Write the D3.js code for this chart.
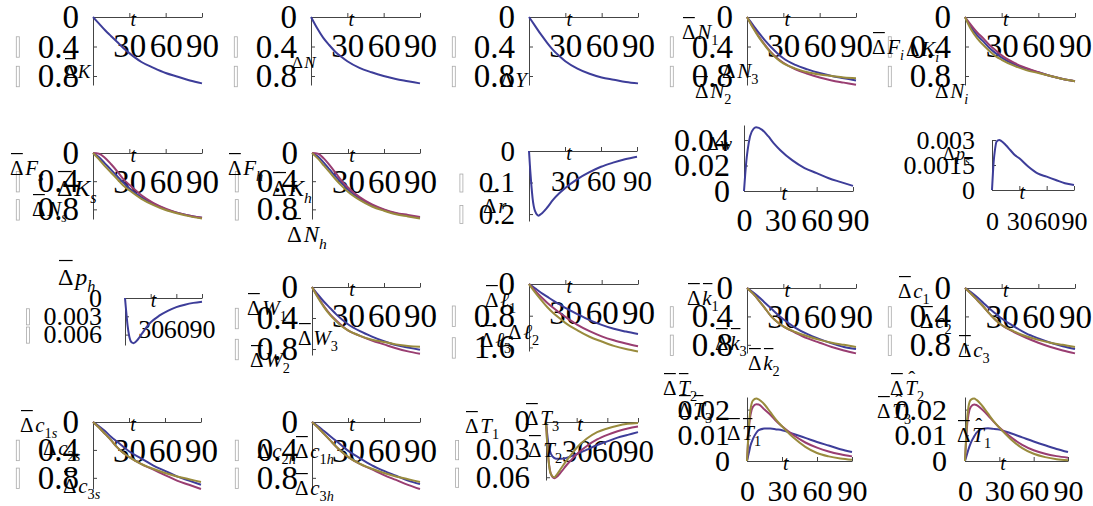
<!DOCTYPE html>
<html>
<head>
<meta charset="utf-8">
<script src="https://cdn.jsdelivr.net/npm/d3@7"></script>
<style>body{margin:0;background:#fff}</style>
</head>
<body>
<svg id="chart" width="1093" height="506"></svg>
<script>
// time grids
const T = [0, 5, 10, 15, 20, 25, 30, 40, 50, 60, 70, 80, 90];
const TF = [0, 1, 2, 3, 5, 8, 10, 15, 20, 25, 30, 40, 50, 60, 70, 80, 90];

// tick values
const xtNeg = [30, 60, 90];
const xtPos = [0, 30, 60, 90];
const ytUnit = [0, -0.4, -0.8];
const ytR = [0, -0.1, -0.2];
const ytW = [0, 0.02, 0.04];
const ytPs = [0, 0.0015, 0.003];
const ytPh = [0, -0.003, -0.006];
const ytL = [0, -0.8, -1.6];
const ytT = [0, -0.03, -0.06];
const ytTb = [0, 0.01, 0.02];

// row 1
const dK = [0, -0.09, -0.18, -0.26, -0.34, -0.42, -0.49, -0.61, -0.69, -0.76, -0.81, -0.86, -0.90];
const dN = [0, -0.15, -0.28, -0.38, -0.47, -0.54, -0.60, -0.69, -0.75, -0.80, -0.84, -0.87, -0.90];
const dY = [0, -0.12, -0.24, -0.35, -0.45, -0.53, -0.60, -0.70, -0.77, -0.82, -0.85, -0.88, -0.90];
const dN1 = [0, -0.11, -0.22, -0.32, -0.41, -0.49, -0.56, -0.65, -0.71, -0.76, -0.80, -0.83, -0.86];
const dN2 = [0, -0.14, -0.27, -0.38, -0.48, -0.56, -0.62, -0.71, -0.77, -0.82, -0.86, -0.89, -0.92];
const dN3 = [0, -0.15, -0.28, -0.39, -0.49, -0.57, -0.63, -0.70, -0.75, -0.78, -0.80, -0.82, -0.83];
const dFi = [0, -0.14, -0.25, -0.33, -0.42, -0.49, -0.55, -0.64, -0.70, -0.75, -0.80, -0.84, -0.87];
const dKi = [0, -0.11, -0.21, -0.29, -0.38, -0.45, -0.52, -0.62, -0.69, -0.75, -0.80, -0.84, -0.87];
const dNi = [0, -0.17, -0.29, -0.38, -0.46, -0.53, -0.58, -0.66, -0.72, -0.76, -0.80, -0.84, -0.87];

// row 2
const dFs = [0, -0.06, -0.15, -0.24, -0.33, -0.42, -0.50, -0.63, -0.72, -0.80, -0.85, -0.89, -0.92];
const dKs = [0, -0.01, -0.07, -0.16, -0.26, -0.37, -0.45, -0.60, -0.71, -0.79, -0.85, -0.89, -0.92];
const dNs = [0, -0.09, -0.19, -0.28, -0.37, -0.46, -0.53, -0.65, -0.74, -0.81, -0.86, -0.90, -0.93];
const dFh = [0, -0.05, -0.14, -0.24, -0.34, -0.43, -0.52, -0.65, -0.74, -0.81, -0.86, -0.89, -0.92];
const dKh = [0, -0.01, -0.08, -0.18, -0.29, -0.40, -0.49, -0.63, -0.73, -0.80, -0.85, -0.88, -0.91];
const dNh = [0, -0.08, -0.18, -0.28, -0.38, -0.47, -0.55, -0.67, -0.76, -0.82, -0.87, -0.90, -0.93];
const dr = [0, -0.06, -0.11, -0.15, -0.19, -0.205, -0.20, -0.18, -0.155, -0.135, -0.118, -0.09, -0.068, -0.05, -0.037, -0.026, -0.018];
const dw = [0, 0.013, 0.024, 0.032, 0.043, 0.049, 0.050, 0.048, 0.043, 0.037, 0.032, 0.024, 0.018, 0.014, 0.010, 0.007, 0.004];
const dps = [0, 0.0010, 0.0018, 0.0023, 0.0029, 0.0030, 0.00295, 0.0027, 0.0024, 0.0021, 0.0019, 0.0014, 0.0010, 0.0008, 0.0006, 0.0004, 0.0003];

// row 3
const dph = [0, -0.0016, -0.0031, -0.0045, -0.0063, -0.0073, -0.0074, -0.0068, -0.0058, -0.0048, -0.0040, -0.0029, -0.0021, -0.0015, -0.0011, -0.0008, -0.0006];
const dW1 = [0, -0.10, -0.19, -0.27, -0.35, -0.42, -0.48, -0.57, -0.64, -0.70, -0.75, -0.78, -0.81];
const dW2 = [0, -0.13, -0.25, -0.35, -0.43, -0.50, -0.56, -0.63, -0.69, -0.74, -0.79, -0.83, -0.86];
const dW3 = [0, -0.14, -0.26, -0.36, -0.44, -0.51, -0.56, -0.63, -0.68, -0.71, -0.74, -0.76, -0.77];
const dl1 = [0, -0.11, -0.22, -0.32, -0.42, -0.51, -0.60, -0.76, -0.91, -1.03, -1.13, -1.20, -1.26];
const dl2 = [0, -0.17, -0.33, -0.47, -0.60, -0.72, -0.83, -1.03, -1.19, -1.32, -1.42, -1.50, -1.57];
const dl3 = [0, -0.21, -0.40, -0.58, -0.73, -0.86, -0.98, -1.17, -1.33, -1.45, -1.56, -1.64, -1.70];
const dk1 = [0, -0.06, -0.13, -0.21, -0.29, -0.37, -0.44, -0.56, -0.65, -0.72, -0.78, -0.83, -0.86];
const dk2 = [0, -0.08, -0.18, -0.29, -0.40, -0.48, -0.54, -0.63, -0.71, -0.77, -0.83, -0.88, -0.92];
const dk3 = [0, -0.08, -0.18, -0.29, -0.40, -0.48, -0.54, -0.62, -0.68, -0.73, -0.77, -0.80, -0.83];
const dc1 = [0, -0.06, -0.13, -0.21, -0.29, -0.36, -0.43, -0.54, -0.64, -0.71, -0.77, -0.82, -0.86];
const dc2 = [0, -0.08, -0.17, -0.26, -0.36, -0.45, -0.52, -0.62, -0.70, -0.77, -0.83, -0.88, -0.92];
const dc3 = [0, -0.08, -0.17, -0.26, -0.36, -0.45, -0.52, -0.61, -0.68, -0.73, -0.77, -0.80, -0.83];

// row 4
const dc1s = [0, -0.06, -0.13, -0.21, -0.28, -0.35, -0.42, -0.52, -0.62, -0.70, -0.78, -0.84, -0.90];
const dc2s = [0, -0.08, -0.17, -0.26, -0.36, -0.44, -0.50, -0.60, -0.68, -0.76, -0.84, -0.90, -0.96];
const dc3s = [0, -0.08, -0.17, -0.26, -0.36, -0.44, -0.50, -0.60, -0.67, -0.73, -0.78, -0.82, -0.86];
const dc1h = [0, -0.06, -0.13, -0.20, -0.27, -0.34, -0.41, -0.52, -0.62, -0.70, -0.77, -0.84, -0.89];
const dc2h = [0, -0.08, -0.17, -0.26, -0.35, -0.43, -0.50, -0.60, -0.68, -0.76, -0.83, -0.90, -0.96];
const dc3h = [0, -0.08, -0.17, -0.26, -0.35, -0.43, -0.50, -0.60, -0.67, -0.73, -0.78, -0.82, -0.86];
const dT1 = [0, -0.011, -0.021, -0.028, -0.035, -0.039, -0.040, -0.040, -0.039, -0.037, -0.035, -0.030, -0.025, -0.021, -0.017, -0.014, -0.011];
const dT2 = [0, -0.019, -0.035, -0.046, -0.057, -0.061, -0.060, -0.054, -0.047, -0.041, -0.035, -0.026, -0.019, -0.014, -0.010, -0.007, -0.005];
const dT3 = [0, -0.020, -0.036, -0.047, -0.057, -0.060, -0.058, -0.050, -0.042, -0.035, -0.028, -0.018, -0.011, -0.007, -0.004, -0.002, -0.001];
const dTb1 = [0, 0.002, 0.004, 0.006, 0.0085, 0.011, 0.012, 0.0126, 0.0126, 0.0123, 0.012, 0.0105, 0.009, 0.0074, 0.006, 0.0046, 0.0035];
const dTb2 = [0, 0.008, 0.0145, 0.018, 0.021, 0.0221, 0.022, 0.020, 0.018, 0.0155, 0.0135, 0.010, 0.0072, 0.0052, 0.0037, 0.0026, 0.0018];
const dTb3 = [0, 0.009, 0.016, 0.020, 0.0235, 0.0243, 0.024, 0.022, 0.019, 0.016, 0.0135, 0.009, 0.0055, 0.0031, 0.0018, 0.0010, 0.0005];
const dTh1 = [0, 0.0015, 0.003, 0.0045, 0.007, 0.0095, 0.011, 0.0125, 0.0127, 0.0125, 0.0122, 0.0108, 0.0092, 0.0076, 0.0061, 0.0047, 0.0035];
const dTh2 = [0, 0.008, 0.0145, 0.018, 0.021, 0.022, 0.0218, 0.020, 0.0178, 0.0153, 0.013, 0.0093, 0.0063, 0.0042, 0.0028, 0.0019, 0.0013];
const dTh3 = [0, 0.010, 0.017, 0.021, 0.0238, 0.0243, 0.0238, 0.0215, 0.0185, 0.0155, 0.013, 0.0085, 0.005, 0.0028, 0.0015, 0.0007, 0.0003];

const COLORS = ["#3d3d99", "#993d71", "#998b3d"];
const FONT = "Liberation Serif";

// layout of each small plot
const panels = [
  {x: 93, y: 17, w: 109, h: 68, dom: [0, -0.922], yt: ytUnit, s: [[T, dK, 0]],
   lab: [{x: 64, y: 78, v: "K", fs: 19, bar: 1}]},
  {x: 311, y: 17, w: 109, h: 68, dom: [0, -0.922], yt: ytUnit, s: [[T, dN, 0]],
   lab: [{x: 292, y: 68, v: "N", fs: 17}]},
  {x: 529, y: 17, w: 109, h: 68, dom: [0, -0.922], yt: ytUnit, s: [[T, dY, 0]],
   lab: [{x: 500, y: 87, v: "Y", fs: 21}]},
  {x: 747, y: 17, w: 109, h: 68, dom: [0, -0.922], yt: ytUnit, s: [[T, dN1, 0], [T, dN2, 1], [T, dN3, 2]],
   lab: [{x: 682, y: 39, v: "N", sub: "1", bar: 1}, {x: 722, y: 78, v: "N", sub: "3"}, {x: 695, y: 98, v: "N", sub: "2", bar: 1}]},
  {x: 965, y: 17, w: 110, h: 68, dom: [0, -0.922], yt: ytUnit, s: [[T, dFi, 0], [T, dKi, 1], [T, dNi, 2]],
   lab: [{x: 872, y: 54, v: "F", sub: "i", bar: 1}, {x: 906, y: 56, v: "K", sub: "i"}, {x: 935, y: 98, v: "N", sub: "i"}]},

  {x: 93, y: 153, w: 109, h: 66, dom: [0, -0.937], yt: ytUnit, s: [[T, dFs, 0], [T, dKs, 1], [T, dNs, 2]],
   lab: [{x: 10, y: 175, v: "F", sub: "s", bar: 1}, {x: 57, y: 196, v: "K", sub: "s", fs: 24, bar: 1}, {x: 32, y: 216, v: "N", sub: "s", bar: 1}]},
  {x: 312, y: 153, w: 108, h: 66, dom: [0, -0.937], yt: ytUnit, s: [[T, dFh, 0], [T, dKh, 1], [T, dNh, 2]],
   lab: [{x: 228, y: 175, v: "F", sub: "h", bar: 1}, {x: 272, y: 196, v: "K", sub: "h", fs: 23, bar: 1}, {x: 287, y: 242, v: "N", sub: "h", fs: 23, bar: 1}]},
  {x: 529, y: 151, w: 108, h: 70, dom: [0, -0.222], yt: ytR, fs: 29, s: [[TF, dr, 0]],
   lab: [{x: 483, y: 213, v: "r", bar: 1}]},
  {x: 744, y: 125, w: 109, h: 66, dom: [0.0518, 0], yt: ytW, pos: 1, fs: 32, s: [[TF, dw, 0]],
   lab: [{x: 707, y: 150, v: "w", fs: 18}]},
  {x: 992, y: 140, w: 82, h: 50, dom: [0.003, 0], yt: ytPs, pos: 1, fs: 26, pad: 17, s: [[TF, dps, 0]],
   lab: [{x: 943, y: 160, v: "p", sub: "s", fs: 18}]},

  {x: 125, y: 298, w: 77, h: 47, dom: [0, -0.0077], yt: ytPh, fs: 26, pad: 23, s: [[TF, dph, 0]],
   lab: [{x: 58, y: 285, v: "p", sub: "h", fs: 24, bar: 1}]},
  {x: 312, y: 287, w: 108, h: 68, dom: [0, -0.877], yt: ytUnit, s: [[T, dW1, 0], [T, dW2, 1], [T, dW3, 2]],
   lab: [{x: 247, y: 315, v: "W", sub: "1", bar: 1}, {x: 298, y: 345, v: "W", sub: "3", bar: 1}, {x: 250, y: 367, v: "W", sub: "2", bar: 1}]},
  {x: 529, y: 284, w: 109, h: 67, dom: [0, -1.69], yt: ytL, s: [[T, dl1, 0], [T, dl2, 1], [T, dl3, 2]],
   lab: [{x: 485, y: 307, v: "ℓ", sub: "1", bar: 1}, {x: 508, y: 339, v: "ℓ", sub: "2"}, {x: 480, y: 347, v: "ℓ", sub: "3", bar: 1}]},
  {x: 747, y: 288, w: 109, h: 65, dom: [0, -0.915], yt: ytUnit, s: [[T, dk1, 0], [T, dk2, 1], [T, dk3, 2]],
   lab: [{x: 687, y: 305, v: "k", sub: "1", bar: 1, barV: 1}, {x: 715, y: 350, v: "k", sub: "3", bar: 1, barV: 1}, {x: 748, y: 370, v: "k", sub: "2", bar: 1, barV: 1}]},
  {x: 965, y: 288, w: 110, h: 65, dom: [0, -0.915], yt: ytUnit, s: [[T, dc1, 0], [T, dc2, 1], [T, dc3, 2]],
   lab: [{x: 898, y: 298, v: "c", sub: "1", bar: 1}, {x: 920, y: 328, v: "c", sub: "2", bar: 1}, {x: 958, y: 357, v: "c", sub: "3", bar: 1}]},

  {x: 93, y: 422, w: 108, h: 67, dom: [0, -0.96], yt: ytUnit, s: [[T, dc1s, 0], [T, dc2s, 1], [T, dc3s, 2]],
   lab: [{x: 20, y: 432, v: "c", sub: "1s", bar: 1}, {x: 43, y: 455, v: "c", sub: "2s"}, {x: 63, y: 493, v: "c", sub: "3s", bar: 1}]},
  {x: 312, y: 422, w: 108, h: 67, dom: [0, -0.96], yt: ytUnit, s: [[T, dc1h, 0], [T, dc2h, 1], [T, dc3h, 2]],
   lab: [{x: 295, y: 458, v: "c", sub: "1h", bar: 1}, {x: 257, y: 458, v: "c", sub: "2h"}, {x: 295, y: 495, v: "c", sub: "3h", bar: 1}]},
  {x: 546, y: 422, w: 92, h: 58, dom: [0, -0.063], yt: ytT, fs: 31, pad: 16, s: [[TF, dT1, 0], [TF, dT2, 1], [TF, dT3, 2]],
   lab: [{x: 465, y: 433, v: "T", sub: "1", bar: 1}, {x: 525, y: 425, v: "T", sub: "3", bar: 1}, {x: 528, y: 457, v: "T", sub: "2", bar: 1}]},
  {x: 747, y: 397, w: 105, h: 64, dom: [0.0249, 0], yt: ytTb, pos: 1, fs: 30, pad: 17, s: [[TF, dTb1, 0], [TF, dTb2, 1], [TF, dTb3, 2]],
   lab: [{x: 663, y: 395, v: "T", sub: "2", bar: 1, barV: 1}, {x: 678, y: 417, v: "T", sub: "3", bar: 1, barV: 1}, {x: 727, y: 440, v: "T", sub: "1", bar: 1, barV: 1}]},
  {x: 965, y: 397, w: 103, h: 64, dom: [0.0249, 0], yt: ytTb, pos: 1, fs: 30, pad: 18, s: [[TF, dTh1, 0], [TF, dTh2, 1], [TF, dTh3, 2]],
   lab: [{x: 890, y: 395, v: "T", sub: "2", bar: 1, hat: 1}, {x: 877, y: 418, v: "T", sub: "3", bar: 1, hat: 1}, {x: 957, y: 442, v: "T", sub: "1", bar: 1, hat: 1}]}
];

const svg = d3.select("#chart").attr("font-family", FONT);

function mathLabel(g, L) {
  const fs = L.fs || 21;
  const t = g.append("text").attr("x", L.x).attr("y", L.y)
    .attr("font-family", FONT).attr("font-size", fs).attr("fill", "#000");
  t.append("tspan").text("Δ");
  t.append("tspan").attr("font-style", "italic").attr("dx", fs * 0.08).text(L.v);
  if (L.sub) {
    [...L.sub].forEach((ch, i) => {
      t.append("tspan")
        .attr("font-size", fs * 0.68)
        .attr("font-style", /\d/.test(ch) ? "normal" : "italic")
        .attr("dy", i === 0 ? fs * 0.3 : 0)
        .text(ch);
    });
  }
  const dW = fs * 0.61;
  const by = L.y - fs * 1.02;
  if (L.bar) {
    g.append("line").attr("x1", L.x + 1).attr("x2", L.x + dW)
      .attr("y1", by).attr("y2", by).attr("stroke", "#000").attr("stroke-width", 1.2);
  }
  if (L.barV) {
    g.append("line").attr("x1", L.x + dW + fs * 0.15).attr("x2", L.x + dW + fs * 0.6)
      .attr("y1", by).attr("y2", by).attr("stroke", "#000").attr("stroke-width", 1.2);
  }
  if (L.hat) {
    g.append("text").attr("x", L.x + dW + fs * 0.42).attr("y", L.y - fs * 0.45)
      .attr("text-anchor", "middle").attr("font-family", FONT)
      .attr("font-size", fs).text("ˆ");
  }
}

panels.forEach(p => {
  const g = svg.append("g");
  const fs = p.fs || 33;
  const x = d3.scaleLinear().domain([0, 90]).range([p.x, p.x + p.w]);
  const y = d3.scaleLinear().domain(p.dom).range([p.y, p.y + p.h]);
  const ay = y(0);

  const xa = g.append("g").attr("transform", `translate(0,${ay})`)
    .call(d3.axisBottom(x).tickValues(p.pos ? xtPos : xtNeg)
      .tickSizeInner(-4).tickSizeOuter(0).tickFormat(d3.format("d")));
  xa.selectAll("text").attr("y", 40).attr("dy", null);

  const ya = g.append("g").attr("transform", `translate(${p.x},0)`)
    .call(d3.axisLeft(y).tickValues(p.yt).tickSizeInner(-4).tickSizeOuter(0)
      .tickPadding(p.pad || 14).tickFormat(d => String(Math.abs(d))));

  [xa, ya].forEach(a => {
    a.attr("color", "#444").attr("font-family", FONT).attr("font-size", fs);
    a.selectAll("text").attr("fill", "#000");
  });

  // missing-glyph boxes where the minus sign should be
  ya.selectAll(".tick").filter(d => d < 0).each(function () {
    const b = this.querySelector("text").getBBox();
    d3.select(this).append("rect")
      .attr("x", b.x - fs * 0.65).attr("y", -fs * 0.31)
      .attr("width", 3).attr("height", fs * 0.62)
      .attr("fill", "none").attr("stroke", "#aaa").attr("stroke-width", 0.8);
  });

  g.append("text").attr("x", p.x + p.w * 0.37).attr("y", ay + 9)
    .attr("text-anchor", "middle").attr("font-family", FONT)
    .attr("font-style", "italic").attr("font-size", 20).text("t");

  const line = d3.line().x(d => x(d[0])).y(d => y(d[1])).curve(d3.curveMonotoneX);
  p.s.forEach(([t, v, c]) => {
    g.append("path").datum(t.map((tt, i) => [tt, v[i]]))
      .attr("d", line).attr("fill", "none")
      .attr("stroke", COLORS[c]).attr("stroke-width", 2);
  });

  p.lab.forEach(L => mathLabel(g, L));
});
</script>
</body>
</html>
